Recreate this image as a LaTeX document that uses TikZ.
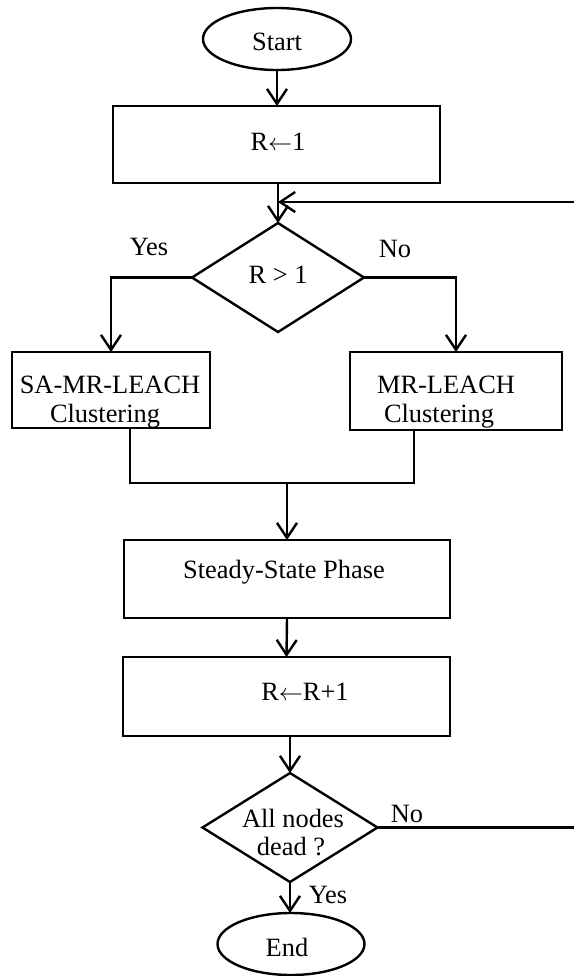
\documentclass[tikz,border=0pt]{standalone}
\usepackage{fontspec}
\setmainfont{Liberation Serif}
\usetikzlibrary{arrows.meta,shapes.geometric}
\begin{document}
\begin{tikzpicture}[x=0.5pt,y=-0.5pt,
  every node/.style={inner sep=0pt,outer sep=0pt},
  lbl/.style={anchor=base,font=\fontsize{13.2pt}{14.5pt}\selectfont},
  ln/.style={line width=1.2pt},
  box/.style={draw,ln,rectangle},
  oval/.style={draw,ln,ellipse},
  dia/.style={draw,ln,diamond},
  arr/.style={ln,-{Straight Barb[length=7.5pt,width=10pt]}}]
\useasboundingbox (0,0) rectangle (574,976);

% shapes
\node[oval,minimum width=74pt,minimum height=31pt] (start) at (277,39) {};
\node[box,minimum width=163.5pt,minimum height=38.5pt] (r1) at (276.5,144.5) {};
\node[dia,minimum width=86pt,minimum height=54.5pt] (cond) at (278,277.5) {};
\node[box,minimum width=99pt,minimum height=38pt] (sa) at (111,390) {};
\node[box,minimum width=106pt,minimum height=39pt] (mr) at (456,391) {};
\node[box,minimum width=163pt,minimum height=39pt] (steady) at (287,579) {};
\node[box,minimum width=163.5pt,minimum height=39.5pt] (rr) at (286.5,696.5) {};
\node[dia,minimum width=87.5pt,minimum height=54.5pt] (dead) at (290,827.5) {};
\node[oval,minimum width=73.5pt,minimum height=31pt] (end) at (291,944) {};

% texts
\node[lbl] (tstart) at (277,50) {Start};
\node[lbl] (tr1) at (278,150) {R$\leftarrow$1};
\node[lbl] (tcond) at (278,283) {R > 1};
\node[lbl] (tyes1) at (149,255) {Yes};
\node[lbl] (tno1) at (395,257) {No};
\node[lbl] (tsa1) at (110,393) {SA-MR-LEACH};
\node[lbl] (tsa2) at (105,422) {Clustering};
\node[lbl] (tmr1) at (446,393) {MR-LEACH};
\node[lbl] (tmr2) at (439,422) {Clustering};
\node[lbl] (tsteady) at (284,578) {Steady-State Phase};
\node[lbl] (trr) at (305,700) {R$\leftarrow$R+1};
\node[lbl] (tdead1) at (293,827) {All nodes};
\node[lbl] (tdead2) at (291,855) {dead ?};
\node[lbl] (tno2) at (407,822) {No};
\node[lbl] (tyes2) at (328,903) {Yes};
\node[lbl] (tend) at (287,956) {End};

% connectors
\coordinate (loopR) at (574,202);
\coordinate (deadR) at (574,829);
\coordinate (m) at (287,483);
\draw[arr] (start.south) -- (start.south |- r1.north);
\draw[arr] (r1.south -| cond.north) -- (cond.north);
\draw[arr] (loopR) -- (cond.north |- loopR);
\draw[arr] (cond.west) -| (sa.north);
\draw[arr] (cond.east) -| (mr.north);
\draw[ln] ([xshift=9.5pt]sa.south) |- (m) -| ([xshift=-21pt]mr.south);
\draw[arr] (m) -- (steady.north);
\draw[arr] (steady.south) -- (rr.north);
\draw[arr] (rr.south -| dead.north) -- (dead.north);
\draw[ln] (dead.east) -- (dead.east -| deadR);
\draw[arr] (dead.south) -- (dead.south |- end.north);
\end{tikzpicture}
\end{document}
